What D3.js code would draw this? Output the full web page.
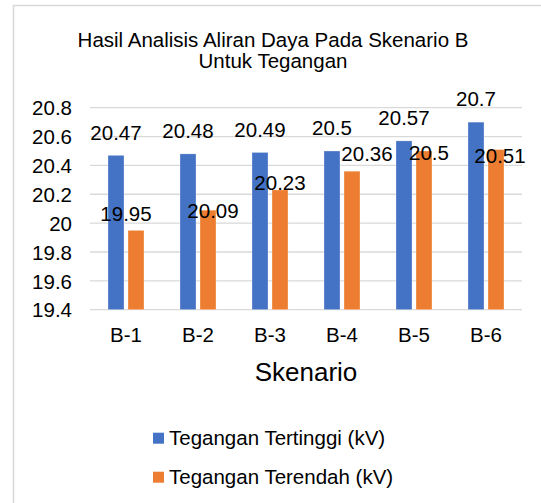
<!DOCTYPE html>
<html>
<head>
<meta charset="utf-8">
<script src="https://cdn.jsdelivr.net/npm/d3@7"></script>
<style>
  html, body { margin: 0; padding: 0; background: #fff; }
  svg { display: block; font-family: "Liberation Sans", Arial, sans-serif; }
</style>
</head>
<body>
<svg id="chart" width="541" height="503"></svg>
<script>
// ---- data ----
const categories = ["B-1", "B-2", "B-3", "B-4", "B-5", "B-6"];
const highest = [20.47, 20.48, 20.49, 20.5, 20.57, 20.7];
const lowest = [19.95, 20.09, 20.23, 20.36, 20.5, 20.51];
const seriesNames = ["Tegangan Tertinggi (kV)", "Tegangan Terendah (kV)"];
const yTicks = [19.4, 19.6, 19.8, 20, 20.2, 20.4, 20.6, 20.8];
const titleLines = ["Hasil Analisis Aliran Daya Pada Skenario B", "Untuk Tegangan"];
const xTitle = "Skenario";
// manual label nudges (px) for the lower series, as placed in the original
const lowLabelDx = [-10, 5, 0, 15, 5, 4];
const lowLabelDy = [6, 24, 16, 6, 25, 29];

const colors = ["#4472C4", "#ED7D31"];
const svg = d3.select("#chart");

// chart frame (partially visible)
svg.append("rect").attr("x", 13.5).attr("y", 5.5).attr("width", 600).attr("height", 600)
  .attr("fill", "#fff").attr("stroke", "#d9d9d9").attr("stroke-width", 1.5);

const plot = { left: 90, right: 522, top: 107.7, bottom: 309.7 };
const x0 = d3.scaleBand().domain(categories).range([plot.left, plot.right]).paddingInner(0).paddingOuter(0);
const y = d3.scaleLinear().domain([19.4, 20.8]).range([plot.bottom, plot.top]);

// gridlines
svg.append("g").selectAll("line").data(yTicks).join("line")
  .attr("x1", plot.left).attr("x2", plot.right)
  .attr("y1", d => y(d)).attr("y2", d => y(d))
  .attr("stroke", "#d9d9d9").attr("stroke-width", 1.3);

// y axis labels
const yAxis = d3.axisLeft(y).tickValues(yTicks).tickSize(0).tickPadding(0).tickFormat(d => String(+d.toFixed(1)));
const gy = svg.append("g").attr("transform", `translate(72,0)`).call(yAxis);
gy.select(".domain").remove();
gy.selectAll("text").attr("font-size", "20.5px").attr("fill", "#000")
  .attr("font-family", "Liberation Sans, Arial, sans-serif").attr("dy", "0.35em");

// x axis labels
const xAxis = d3.axisBottom(x0).tickSize(0).tickPadding(0);
const gx = svg.append("g").attr("transform", `translate(0,${plot.bottom})`).call(xAxis);
gx.select(".domain").remove();
gx.selectAll("text").attr("font-size", "20.5px").attr("fill", "#000")
  .attr("font-family", "Liberation Sans, Arial, sans-serif").attr("dy", null).attr("y", 32);

// bars
const series = [highest, lowest];
const barW = 16;
series.forEach((vals, s) => {
  const g = svg.append("g");
  g.selectAll("rect").data(vals).join("rect")
    .attr("x", (d, i) => x0(categories[i]) + x0.bandwidth() / 2 + (s === 0 ? -18 : 2))
    .attr("width", barW)
    .attr("y", d => y(d))
    .attr("height", d => y(19.4) - y(d))
    .attr("fill", colors[s])
    .attr("stroke", "#fff").attr("stroke-opacity", 0.5).attr("stroke-width", 0.6);
  g.selectAll("text").data(vals).join("text")
    .attr("x", (d, i) => x0(categories[i]) + x0.bandwidth() / 2 + (s === 0 ? -10 : 10) + (s === 1 ? lowLabelDx[i] : 0))
    .attr("y", (d, i) => y(d) - 15.7 + (s === 1 ? lowLabelDy[i] : 0))
    .attr("text-anchor", "middle").attr("font-size", "20.5px").attr("fill", "#000")
    .text(d => String(d));
});

// title
svg.append("text").attr("text-anchor", "middle").attr("font-size", "20.5px").attr("fill", "#000")
  .selectAll("tspan").data(titleLines).join("tspan")
  .attr("x", 273).attr("y", (d, i) => 46.7 + i * 21.5).text(d => d);

// x title
svg.append("text").attr("x", (plot.left + plot.right) / 2).attr("y", 381)
  .attr("text-anchor", "middle").attr("font-size", "26px").attr("fill", "#000").text(xTitle);

// legend
const leg = svg.append("g");
seriesNames.forEach((name, i) => {
  const yy = 445 + i * 39;
  leg.append("rect").attr("x", 153).attr("y", yy - 12.3).attr("width", 11).attr("height", 11).attr("fill", colors[i]);
  leg.append("text").attr("x", 169).attr("y", yy).attr("font-size", "20.5px").attr("fill", "#000").text(name);
});
</script>
</body>
</html>
